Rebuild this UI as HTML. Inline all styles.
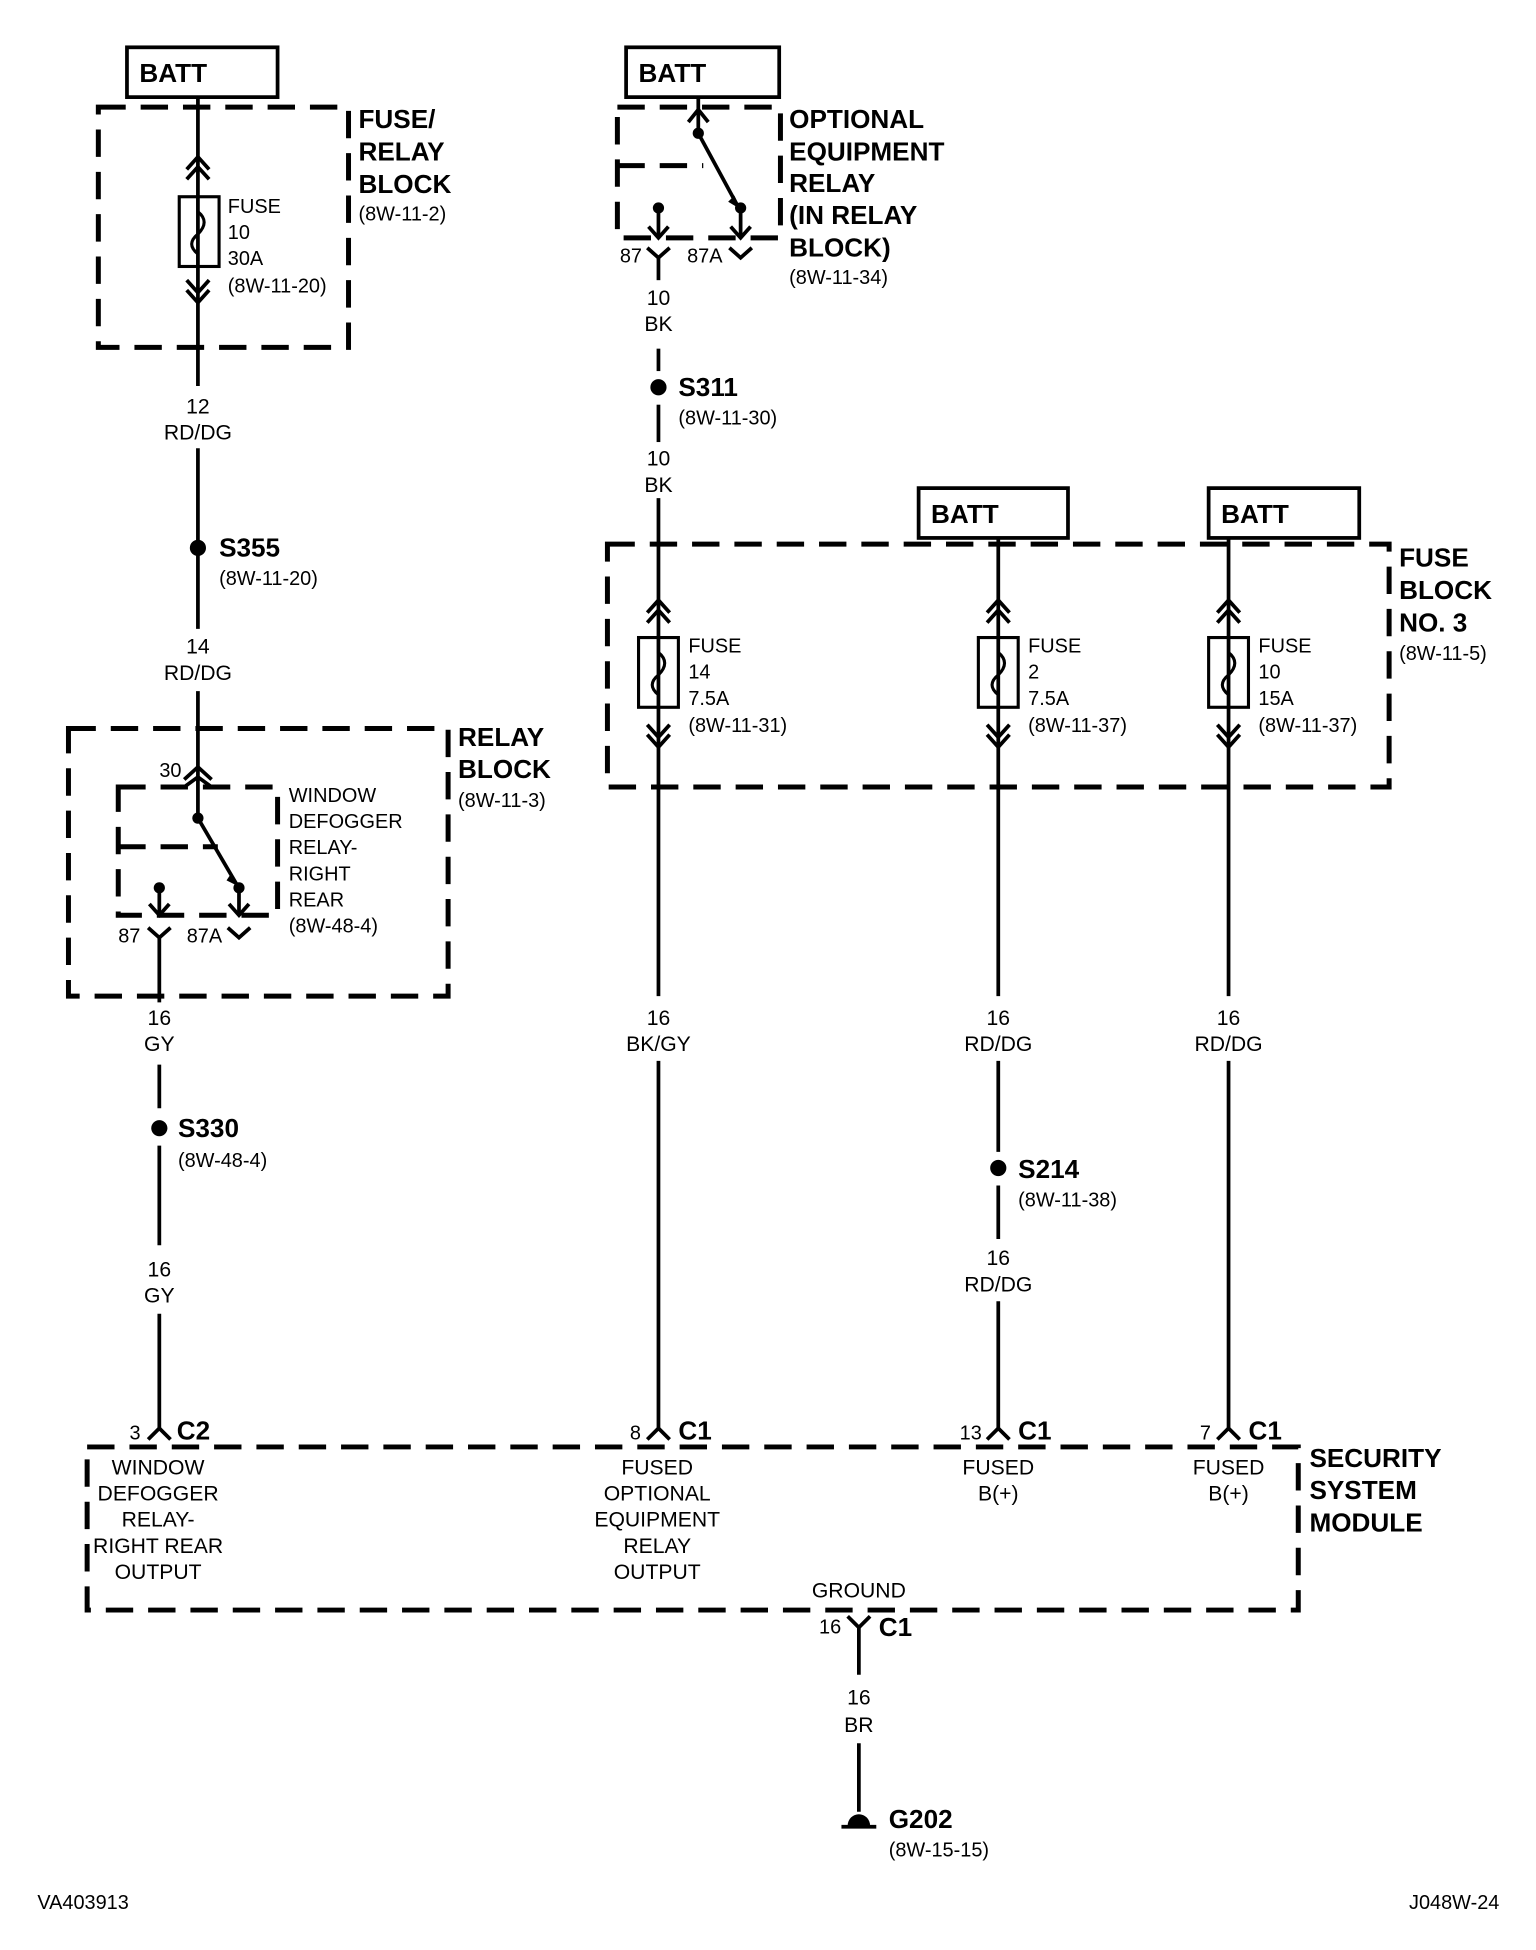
<!DOCTYPE html>
<html><head><meta charset="utf-8"><style>
html,body{margin:0;padding:0;background:#fff;}
svg{display:block;}
text{font-family:"Liberation Sans Narrow","Liberation Sans",sans-serif;fill:#000;}
.b{font-weight:bold;font-size:21px;}
.s{font-size:16px;}
.m{font-size:17px;}
</style></head><body>
<svg width="1536" height="1950" viewBox="0 0 1234 1566" preserveAspectRatio="none" xmlns="http://www.w3.org/2000/svg">
<g fill="none" stroke="#000" stroke-width="3">
<!-- BATT boxes -->
<rect x="102" y="38" width="121" height="40"/>
<rect x="503" y="38" width="123" height="40"/>
<rect x="738" y="392" width="120" height="40"/>
<rect x="971" y="392" width="121" height="40"/>
</g>
<g fill="none" stroke="#000" stroke-width="4" stroke-dasharray="22,12">
<rect x="79" y="86" width="201" height="193"/>
<rect x="55" y="585" width="305" height="215"/>
<rect x="95" y="632" width="128" height="103"/>
<line x1="95" y1="680" x2="175" y2="680"/>
<rect x="496" y="86" width="131" height="105"/>
<line x1="496" y1="133" x2="565" y2="133"/>
<rect x="488" y="437" width="628" height="195"/>
<rect x="70" y="1162" width="973" height="131"/>
</g>
<g fill="none" stroke="#000" stroke-width="3">
<!-- col1 -->
<line x1="159" y1="78" x2="159" y2="310"/>
<line x1="159" y1="360" x2="159" y2="505"/>
<line x1="159" y1="555" x2="159" y2="625"/>
<rect x="144" y="158" width="32" height="56" stroke-width="2.5"/>
<path d="M159 158 v12 q10 8 0 18 q-10 8 0 16 v10" stroke-width="2.5"/>
<polyline points="150,136 159,126 168,136"/><polyline points="150,144 159,134 168,144"/>
<polyline points="150,225 159,235 168,225"/><polyline points="150,233 159,243 168,233"/>
<!-- relay 1 -->
<polyline points="148,626 159,616 170,626"/>
<polyline points="148,632 159,624 170,632"/>
<line x1="159" y1="624" x2="159" y2="657"/>
<line x1="159" y1="657" x2="190" y2="710"/>
<line x1="128" y1="712" x2="128" y2="735"/>
<line x1="192" y1="712" x2="192" y2="735"/>
<polyline points="120,726 128,735 136,726"/><polyline points="184,726 192,735 200,726"/>
<polyline points="119,745 128,753 137,745"/><polyline points="183,745 192,753 201,745"/>
<line x1="128" y1="753" x2="128" y2="805"/>
<line x1="128" y1="855" x2="128" y2="890"/>
<line x1="128" y1="920" x2="128" y2="1000"/>
<line x1="128" y1="1055" x2="128" y2="1148"/>
<polyline points="119,1156 128,1147 137,1156"/>
<!-- col2 -->
<line x1="561" y1="78" x2="561" y2="107"/>
<polyline points="553,98 561,88 569,98"/>
<line x1="561" y1="107" x2="593" y2="166"/>
<line x1="529" y1="168" x2="529" y2="191"/>
<line x1="595" y1="168" x2="595" y2="191"/>
<polyline points="521,182 529,191 537,182"/><polyline points="587,182 595,191 603,182"/>
<polyline points="520,199 529,207 538,199"/><polyline points="586,199 595,207 604,199"/>
<line x1="529" y1="207" x2="529" y2="225"/>
<line x1="529" y1="280" x2="529" y2="298"/>
<line x1="529" y1="325" x2="529" y2="355"/>
<line x1="529" y1="400" x2="529" y2="800"/>
<line x1="529" y1="852" x2="529" y2="1148"/>
<polyline points="520,1156 529,1147 538,1156"/>
<!-- col3 -->
<line x1="802" y1="432" x2="802" y2="800"/>
<line x1="802" y1="852" x2="802" y2="925"/>
<line x1="802" y1="952" x2="802" y2="995"/>
<line x1="802" y1="1045" x2="802" y2="1148"/>
<polyline points="793,1156 802,1147 811,1156"/>
<!-- col4 -->
<line x1="987" y1="432" x2="987" y2="800"/>
<line x1="987" y1="852" x2="987" y2="1148"/>
<polyline points="978,1156 987,1147 996,1156"/>
<!-- ground -->
<line x1="690" y1="1305" x2="690" y2="1345"/>
<polyline points="681,1298 690,1307 699,1298"/>
<line x1="690" y1="1400" x2="690" y2="1455"/>
<line x1="676" y1="1467" x2="704" y2="1467"/>
</g>
<g fill="none" stroke="#000" stroke-width="2.5">
<rect x="513" y="512" width="32" height="56"/><path d="M529 512 v12 q10 8 0 18 q-10 8 0 16 v10"/>
<rect x="786" y="512" width="32" height="56"/><path d="M802 512 v12 q10 8 0 18 q-10 8 0 16 v10"/>
<rect x="971" y="512" width="32" height="56"/><path d="M987 512 v12 q10 8 0 18 q-10 8 0 16 v10"/>
<g stroke-width="3">
<polyline points="520,492 529,482 538,492"/><polyline points="520,500 529,490 538,500"/>
<polyline points="520,582 529,592 538,582"/><polyline points="520,590 529,600 538,590"/>
<polyline points="793,492 802,482 811,492"/><polyline points="793,500 802,490 811,500"/>
<polyline points="793,582 802,592 811,582"/><polyline points="793,590 802,600 811,590"/>
<polyline points="978,492 987,482 996,492"/><polyline points="978,500 987,490 996,500"/>
<polyline points="978,582 987,592 996,582"/><polyline points="978,590 987,600 996,590"/>
</g>
</g>
<g fill="#000">
<circle cx="159" cy="440" r="6.5"/><circle cx="128" cy="906" r="6.5"/>
<circle cx="529" cy="311" r="6.5"/><circle cx="802" cy="938" r="6.5"/>
<circle cx="159" cy="657" r="4.5"/><circle cx="128" cy="713" r="4.5"/><circle cx="192" cy="713" r="4.5"/>
<circle cx="561" cy="107" r="4.5"/><circle cx="529" cy="167" r="4.5"/><circle cx="595" cy="167" r="4.5"/>
<polygon points="186,701 192,712 182,707"/><polygon points="590,157 595,168 585,162"/>
<path d="M681 1466 a9 9 0 0 1 18 0 z"/>
</g>
<!-- texts -->
<text class="b" x="112" y="66">BATT</text>
<text class="b" x="513" y="66">BATT</text>
<text class="b" x="748" y="420">BATT</text>
<text class="b" x="981" y="420">BATT</text>
<text class="b" x="288" y="103">FUSE/</text><text class="b" x="288" y="129">RELAY</text><text class="b" x="288" y="155">BLOCK</text>
<text class="s" x="288" y="177">(8W-11-2)</text>
<text class="s" x="183" y="171">FUSE</text><text class="s" x="183" y="192">10</text><text class="s" x="183" y="213">30A</text><text class="s" x="183" y="235">(8W-11-20)</text>
<g class="m" text-anchor="middle">
<text x="159" y="332">12</text><text x="159" y="353">RD/DG</text>
<text x="159" y="525">14</text><text x="159" y="546">RD/DG</text>
<text x="128" y="823">16</text><text x="128" y="844">GY</text>
<text x="128" y="1025">16</text><text x="128" y="1046">GY</text>
<text x="529" y="245">10</text><text x="529" y="266">BK</text>
<text x="529" y="374">10</text><text x="529" y="395">BK</text>
<text x="529" y="823">16</text><text x="529" y="844">BK/GY</text>
<text x="802" y="823">16</text><text x="802" y="844">RD/DG</text>
<text x="987" y="823">16</text><text x="987" y="844">RD/DG</text>
<text x="802" y="1016">16</text><text x="802" y="1037">RD/DG</text>
<text x="690" y="1369">16</text><text x="690" y="1391">BR</text>
<text x="127" y="1184">WINDOW</text><text x="127" y="1205">DEFOGGER</text><text x="127" y="1226">RELAY-</text><text x="127" y="1247">RIGHT REAR</text><text x="127" y="1268">OUTPUT</text>
<text x="528" y="1184">FUSED</text><text x="528" y="1205">OPTIONAL</text><text x="528" y="1226">EQUIPMENT</text><text x="528" y="1247">RELAY</text><text x="528" y="1268">OUTPUT</text>
<text x="802" y="1184">FUSED</text><text x="802" y="1205">B(+)</text>
<text x="987" y="1184">FUSED</text><text x="987" y="1205">B(+)</text>
<text x="690" y="1283">GROUND</text>
</g>
<text class="b" x="176" y="447">S355</text><text class="s" x="176" y="470">(8W-11-20)</text>
<text class="b" x="143" y="913">S330</text><text class="s" x="143" y="937">(8W-48-4)</text>
<text class="b" x="545" y="318">S311</text><text class="s" x="545" y="341">(8W-11-30)</text>
<text class="b" x="818" y="946">S214</text><text class="s" x="818" y="969">(8W-11-38)</text>
<text class="b" x="714" y="1468">G202</text><text class="s" x="714" y="1491">(8W-15-15)</text>
<text class="b" x="368" y="599">RELAY</text><text class="b" x="368" y="625">BLOCK</text><text class="s" x="368" y="648">(8W-11-3)</text>
<g class="s">
<text x="128" y="624">30</text>
<text x="232" y="644">WINDOW</text><text x="232" y="665">DEFOGGER</text><text x="232" y="686">RELAY-</text><text x="232" y="707">RIGHT</text><text x="232" y="728">REAR</text><text x="232" y="749">(8W-48-4)</text>
<text x="95" y="757">87</text><text x="150" y="757">87A</text>
<text x="498" y="211">87</text><text x="552" y="211">87A</text>
<text x="634" y="228">(8W-11-34)</text>
<text x="1124" y="530">(8W-11-5)</text>
<text x="553" y="524">FUSE</text><text x="553" y="545">14</text><text x="553" y="566">7.5A</text><text x="553" y="588">(8W-11-31)</text>
<text x="826" y="524">FUSE</text><text x="826" y="545">2</text><text x="826" y="566">7.5A</text><text x="826" y="588">(8W-11-37)</text>
<text x="1011" y="524">FUSE</text><text x="1011" y="545">10</text><text x="1011" y="566">15A</text><text x="1011" y="588">(8W-11-37)</text>
<text x="104" y="1156">3</text><text x="506" y="1156">8</text><text x="771" y="1156">13</text><text x="964" y="1156">7</text>
<text x="658" y="1312">16</text>
<text x="30" y="1533">VA403913</text><text x="1132" y="1533">J048W-24</text>
</g>
<text class="b" x="634" y="103">OPTIONAL</text><text class="b" x="634" y="129">EQUIPMENT</text><text class="b" x="634" y="154">RELAY</text><text class="b" x="634" y="180">(IN RELAY</text><text class="b" x="634" y="206">BLOCK)</text>
<text class="b" x="1124" y="455">FUSE</text><text class="b" x="1124" y="481">BLOCK</text><text class="b" x="1124" y="507">NO. 3</text>
<text class="b" x="1052" y="1178">SECURITY</text><text class="b" x="1052" y="1204">SYSTEM</text><text class="b" x="1052" y="1230">MODULE</text>
<text class="b" x="142" y="1156">C2</text><text class="b" x="545" y="1156">C1</text><text class="b" x="818" y="1156">C1</text><text class="b" x="1003" y="1156">C1</text>
<text class="b" x="706" y="1314">C1</text>
</svg>
</body></html>
